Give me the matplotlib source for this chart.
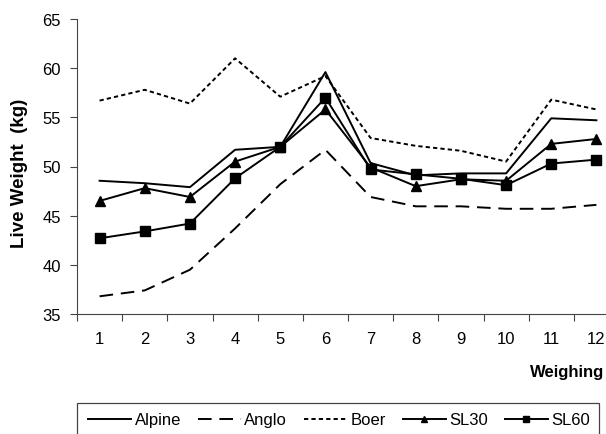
import matplotlib
matplotlib.use("Agg")
import matplotlib.pyplot as plt
from matplotlib.patches import Rectangle

plt.rcParams['font.family'] = ['Liberation Sans', 'DejaVu Sans']

weighing = list(range(1, 13))
alpine = [48.55, 48.3, 47.9, 51.7, 52.0, 59.6, 50.35, 49.1, 49.3, 49.3, 54.9, 54.7]
anglo = [36.8, 37.4, 39.5, 43.7, 48.2, 51.7, 46.9, 45.95, 45.95, 45.7, 45.7, 46.1]
boer = [56.7, 57.8, 56.4, 61.0, 57.1, 59.2, 52.9, 52.1, 51.6, 50.5, 56.8, 55.8]
sl30 = [46.5, 47.8, 46.9, 50.5, 52.0, 55.8, 49.9, 48.0, 48.7, 48.55, 52.3, 52.8]
sl60 = [42.7, 43.4, 44.2, 48.8, 52.0, 57.0, 49.7, 49.2, 48.75, 48.1, 50.3, 50.7]
yticks = [35, 40, 45, 50, 55, 60, 65]

W, H = 606, 435
fig = plt.figure(figsize=(W / 100, H / 100), dpi=100)
x0, x1 = 77, 619
y0, y1 = 315, 20
ax = fig.add_axes([x0 / W, 1 - y0 / H, (x1 - x0) / W, (y0 - y1) / H])

lw = 1.4
ax.plot(weighing, alpine, color='black', lw=lw, label='Alpine')
ax.plot(weighing, anglo, color='black', lw=lw, dashes=(7, 4), label='Anglo')
ax.plot(weighing, boer, color='black', lw=lw, dashes=(2.2, 1.6), label='Boer')
ax.plot(weighing, sl30, color='black', lw=lw, marker='^', markersize=7, label='SL30')
ax.plot(weighing, sl60, color='black', lw=lw, marker='s', markersize=7, label='SL60')

ax.set_xlim(0.5, 12.5)
ax.set_ylim(35, 65)
ax.set_yticks(yticks)
ax.set_xticks(weighing)
ax.set_xticks([i + 0.5 for i in range(0, 13)], minor=True)
ax.tick_params(axis='x', which='major', length=0, labelsize=12, pad=12)
ax.tick_params(axis='x', which='minor', length=5, width=0.8, direction='out', color='#444444')
ax.tick_params(axis='y', length=5, width=0.8, direction='out', labelsize=12, color='#444444', pad=6.5)
for s in ['top', 'right']:
    ax.spines[s].set_visible(False)
for s in ['left', 'bottom']:
    ax.spines[s].set_color('#444444')
    ax.spines[s].set_linewidth(0.8)

fig.text(20 / W, 1 - 173.5 / H, 'Live Weight  (kg)', rotation=90, fontsize=13.5,
         fontweight='bold', ha='center', va='center')
fig.text(604 / W, 1 - 372 / H, 'Weighing', fontsize=12, fontweight='bold',
         ha='right', va='center')

# legend frame (extends past the bottom of the figure, as in the reference)
frame = Rectangle((76.5 / W, -0.05), (598.5 - 76.5) / W, (0.05 + 1 - 404 / H),
                  transform=fig.transFigure, fill=False, clip_on=False,
                  edgecolor='#444444', linewidth=0.9, zorder=5)
fig.add_artist(frame)
leg = fig.legend(loc='center left', bbox_to_anchor=(88 / W, 1 - 421 / H),
                 ncol=5, frameon=False, fontsize=12,
                 handlelength=2.6, handletextpad=0.2, borderpad=0, columnspacing=1.0,
                 markerscale=0.7, borderaxespad=0)

fig.savefig('out.png', dpi=100)
